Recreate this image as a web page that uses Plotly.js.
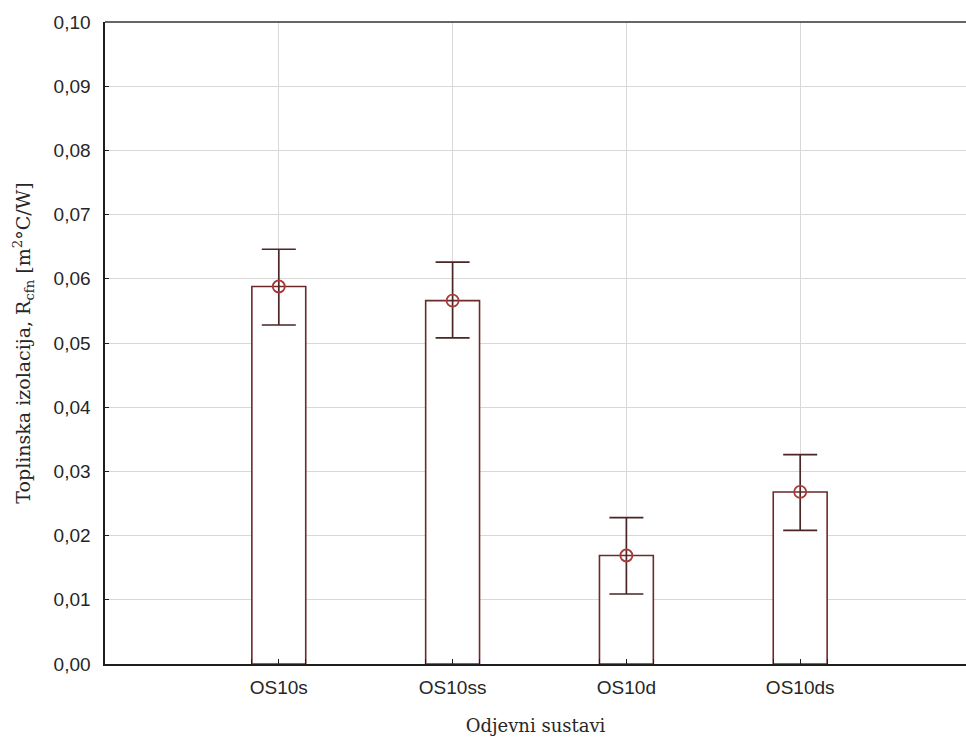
<!DOCTYPE html>
<html>
<head>
<meta charset="utf-8">
<script src="https://cdn.plot.ly/plotly-3.0.1.min.js"></script>
<style>html,body{margin:0;padding:0;background:#fff;}#chart{width:966px;height:742px;}</style>
</head>
<body>
<div id="chart"></div>
<script>
const categories = ["OS10s", "OS10ss", "OS10d", "OS10ds"];
const means = [0.0588, 0.0566, 0.0169, 0.0268];
const upper = [0.0646, 0.0626, 0.0228, 0.0326];
const lower = [0.0528, 0.0508, 0.0109, 0.0208];
const yTicks = [0, 0.01, 0.02, 0.03, 0.04, 0.05, 0.06, 0.07, 0.08, 0.09, 0.10];

const barWidth = 0.31;
const errPlus = means.map((m, i) => upper[i] - m);
const errMinus = means.map((m, i) => m - lower[i]);
const xIdx = categories.map((c, i) => i);
const edgeTicks = [];
xIdx.forEach(v => { edgeTicks.push(v - barWidth / 2, v + barWidth / 2); });

const bars = {
  type: "bar",
  x: xIdx,
  y: means,
  width: barWidth,
  marker: {color: "#ffffff", line: {color: "#6e2a2a", width: 1.6}},
  hoverinfo: "skip",
  showlegend: false
};
const pts = {
  type: "scatter",
  mode: "markers",
  x: xIdx,
  y: means,
  marker: {symbol: "circle-open", size: 12, color: "#a83a3a", line: {width: 1.8, color: "#a83a3a"}},
  error_y: {type: "data", symmetric: false, array: errPlus, arrayminus: errMinus,
            color: "#4a2626", thickness: 1.7, width: 17},
  showlegend: false
};

const tickFont = {family: "Liberation Sans, Arial, sans-serif", size: 19, color: "#262626"};
const titleFont = {family: "DejaVu Serif, serif", size: 18, color: "#262626"};

const layout = {
  width: 966, height: 742,
  margin: {l: 105, r: 0, t: 22, b: 78},
  paper_bgcolor: "#ffffff",
  plot_bgcolor: "#ffffff",
  separators: ",.",
  showlegend: false,
  xaxis: {
    range: [-1, 3 + 166/174],
    tickmode: "array",
    tickvals: xIdx,
    ticktext: categories,
    showgrid: true, gridcolor: "#d8d8d8", gridwidth: 1,
    showline: true, linecolor: "#1e1e1e", linewidth: 1.6,
    ticks: "inside", ticklen: 5, tickcolor: "#1e1e1e",
    minor: {tickmode: "array", tickvals: edgeTicks, ticks: "inside", ticklen: 5,
            tickcolor: "#1e1e1e", showgrid: false},
    ticklabelstandoff: 6,
    zeroline: false,
    tickfont: tickFont,
    title: {text: "Odjevni sustavi", standoff: 22, font: titleFont}
  },
  yaxis: {
    range: [0, 0.10],
    tickmode: "array",
    tickvals: yTicks,
    tickformat: ".2f",
    showgrid: true, gridcolor: "#d8d8d8", gridwidth: 1,
    showline: true, linecolor: "#1e1e1e", linewidth: 1.6,
    ticks: "inside", ticklen: 4, tickcolor: "#1e1e1e",
    ticklabelstandoff: 9,
    zeroline: false,
    tickfont: tickFont,
    title: {text: "Toplinska izolacija, R<sub>cfn</sub> [m<sup>2</sup>°C/W]", standoff: 18,
            font: {family: "DejaVu Serif, serif", size: 19, color: "#262626"}}
  },
  shapes: [{type: "line", xref: "paper", yref: "paper", x0: 0, x1: 1, y0: 1, y1: 1,
            line: {color: "#333333", width: 1.6}}]
};

Plotly.newPlot("chart", [bars, pts], layout, {displayModeBar: false, staticPlot: true});
</script>
</body>
</html>
